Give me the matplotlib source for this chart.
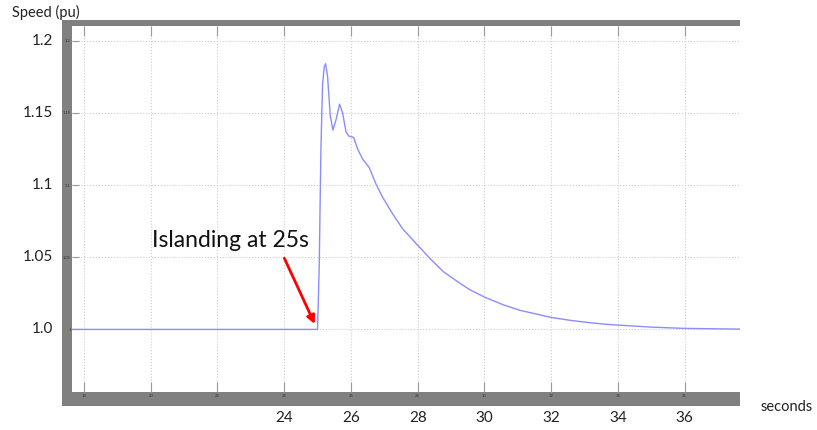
import matplotlib
matplotlib.use("Agg")
import matplotlib.pyplot as plt
import numpy as np

plt.rcParams['font.family'] = ['Lato', 'DejaVu Sans']

# rotor speed (time in s, speed in pu)
t = [17.6, 20.0, 22.0, 24.0, 25.0, 25.05, 25.1, 25.15, 25.2, 25.24, 25.3,
     25.38, 25.46, 25.55, 25.66, 25.75, 25.85, 25.93, 26.08, 26.2, 26.35,
     26.55, 26.75, 26.95, 27.25, 27.55, 28.0, 28.37, 28.77, 29.27, 29.57,
     30.0, 30.57, 31.07, 31.57, 32.0, 32.57, 33.07, 33.57, 34.0, 35.0,
     36.0, 37.7]
speed = [1.0, 1.0, 1.0, 1.0, 1.0, 1.045, 1.125, 1.17, 1.182, 1.184, 1.175,
         1.148, 1.138, 1.145, 1.156, 1.15, 1.137, 1.134, 1.133, 1.125, 1.118,
         1.112, 1.1007, 1.0915, 1.080, 1.0697, 1.0583, 1.0491, 1.040, 1.0319, 1.0274,
         1.0224, 1.017, 1.0132, 1.0106, 1.0083, 1.0063, 1.0049, 1.0037, 1.003, 1.0016,
         1.0007, 1.0002]

xticks = [18, 20, 22, 24, 26, 28, 30, 32, 34, 36]
yticks = [1.0, 1.05, 1.1, 1.15, 1.2]
big_xticks = [24, 26, 28, 30, 32, 34, 36]
big_ylabels = ['1.0', '1.05', '1.1', '1.15', '1.2']

W, H = 817, 430
fig = plt.figure(figsize=(W / 100, H / 100), dpi=100)

def box(x0, y0, x1, y1):
    # pixel box (from top-left) -> figure fractions
    return [x0 / W, 1 - y1 / H, (x1 - x0) / W, (y1 - y0) / H]

# gray frame behind the plot
bg = fig.add_axes(box(62, 19.5, 740, 405.5))
bg.set_facecolor('#808080')
bg.set_xticks([]); bg.set_yticks([])
for s in bg.spines.values():
    s.set_visible(False)

ax = fig.add_axes(box(72, 25.5, 740, 391.5))
ax.set_facecolor('white')
ax.plot(t, speed, color='#8c8cff', lw=1.0)
ax.set_xlim(17.64, 37.66)
ax.set_ylim(0.957, 1.2105)
ax.set_xticks(xticks)
ax.set_xticklabels([str(v) for v in xticks])
ax.set_yticks(yticks)
ax.set_yticklabels(['1', '1.05', '1.1', '1.15', '1.2'])
ax.tick_params(direction='in', length=7, width=0.8, color='#999999',
               labelsize=3, labelcolor='#333333', pad=2, top=True)
ax.tick_params(axis='y', length=5, pad=1)
ax.grid(True, color='#cccccc', linestyle=':', lw=0.8)
for s in ax.spines.values():
    s.set_visible(False)

# big labels pasted over the screenshot
for lab, v in zip(big_ylabels, yticks):
    ax.text(-0.028, v, lab, transform=ax.get_yaxis_transform(), ha='right',
            va='center', fontsize=11, color='#222222', clip_on=False)
for v in big_xticks:
    ax.text(v, -0.072, str(v), transform=ax.get_xaxis_transform(), ha='center',
            va='center', fontsize=11, color='#222222', clip_on=False)
fig.text(787 / W, 1 - 407 / H, 'seconds', ha='center', va='center',
         fontsize=10.5, color='#222222')
fig.text(46 / W, 1 - 12 / H, 'Speed (pu)', ha='center', va='center',
         fontsize=10.5, color='#222222')

ax.text(22.4, 1.0615, 'Islanding at 25s', ha='center', va='center',
        fontsize=16.5, color='#111111')
ax.annotate('', xy=(24.95, 1.002), xytext=(23.97, 1.051),
            arrowprops=dict(arrowstyle='-|>', color='#ff0000', lw=2,
                            mutation_scale=12))

fig.savefig('out.png', dpi=100)
